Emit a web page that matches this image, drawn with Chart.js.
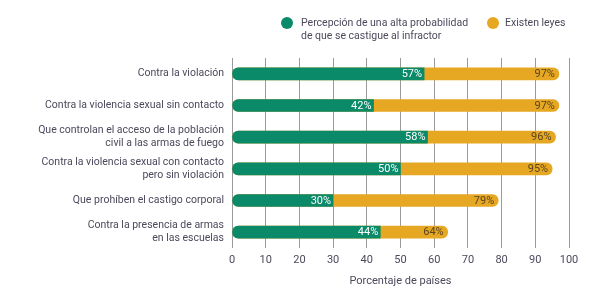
<!DOCTYPE html>
<html>
<head>
<meta charset="utf-8">
<script src="https://cdn.jsdelivr.net/npm/chart.js@4"></script>
<style>
  html,body{margin:0;padding:0;background:#fff;}
  #wrap{position:relative;width:599px;height:303px;}
  #leyenda{position:absolute;top:16px;left:281px;font:10.5px "Roboto",sans-serif;color:#4a4a5c;}
  .item{position:absolute;white-space:nowrap;line-height:13px;}
  .dot{position:absolute;left:0;top:1px;width:12px;height:12px;border-radius:50%;}
</style>
</head>
<body>
<div id="wrap">
  <canvas id="grafico" width="599" height="303"></canvas>
  <div id="leyenda">
    <div class="item" style="left:0;top:0;"><span class="dot" style="background:#0b8a69"></span><span style="margin-left:20px;display:inline-block">Percepción de una alta probabilidad<br>de que se castigue al infractor</span></div>
    <div class="item" style="left:206px;top:0;"><span class="dot" style="background:#e6a722"></span><span style="margin-left:18px;display:inline-block">Existen leyes</span></div>
  </div>
</div>
<script>
// --- Datos ---
const categorias = [
  'Contra la violación',
  'Contra la violencia sexual sin contacto',
  ['Que controlan el acceso de la población', 'civil a las armas de fuego'],
  ['Contra la violencia sexual con contacto', 'pero sin violación'],
  'Que prohíben el castigo corporal',
  ['Contra la presencia de armas', 'en las escuelas']
];
const percepcion = [57, 42, 58, 50, 30, 44];
const existenLeyes = [97, 97, 96, 95, 79, 64];
const ticksX = [0, 10, 20, 30, 40, 50, 60, 70, 80, 90, 100];

const VERDE = '#0b8a69', NARANJA = '#e6a722', TEXTO = '#4a4a5c';
const fuente = '"Roboto",sans-serif';

// etiquetas de porcentaje al final de cada barra
const etiquetas = {
  id:'etiquetas',
  afterDatasetsDraw(chart){
    const ctx = chart.ctx;
    ctx.save();
    ctx.font = '11px ' + fuente;
    ctx.textAlign = 'right';
    ctx.textBaseline = 'middle';
    chart.data.datasets.forEach((ds, d)=>{
      const meta = chart.getDatasetMeta(d);
      meta.data.forEach((bar, i)=>{
        ctx.fillStyle = d===0 ? '#ffffff' : '#5a4520';
        ctx.fillText(ds.data[i] + '%', bar.x - (d===0 ? 2 : 4), bar.y + 0.5);
      });
    });
    ctx.restore();
  }
};

new Chart(document.getElementById('grafico'), {
  type:'bar',
  data:{
    labels: categorias,
    datasets:[
      {label:'Percepción de una alta probabilidad de que se castigue al infractor', data: percepcion,
       backgroundColor: VERDE, grouped:false, barThickness:12, borderSkipped:false,
       borderRadius:{topLeft:6, bottomLeft:6, topRight:0, bottomRight:0}},
      {label:'Existen leyes', data: existenLeyes,
       backgroundColor: NARANJA, grouped:false, barThickness:12, borderSkipped:false,
       borderRadius:6}
    ]
  },
  options:{
    indexAxis:'y',
    responsive:false,
    animation:false,
    layout:{padding:{top:58, right:30, left:0, bottom:0}},
    plugins:{legend:{display:false}, tooltip:{enabled:false}},
    scales:{
      x:{
        min:0, max:100,
        afterBuildTicks(s){ s.ticks = ticksX.map(v=>({value:v})); },
        grid:{color:'#9a9a9a', lineWidth:1, drawTicks:false},
        border:{display:false},
        ticks:{color:TEXTO, font:{family:fuente, size:11}, padding:6},
        title:{display:true, text:'Porcentaje de países', color:TEXTO, font:{family:fuente, size:11}, padding:{top:6, bottom:15}},
        afterFit(s){ s.height = 55; }
      },
      y:{
        grid:{display:false, drawTicks:false},
        border:{display:false},
        ticks:{color:TEXTO, font:{family:fuente, size:10.5}, padding:8},
        afterFit(s){ s.width = 232; }
      }
    }
  },
  plugins:[etiquetas]
});
</script>
</body>
</html>
